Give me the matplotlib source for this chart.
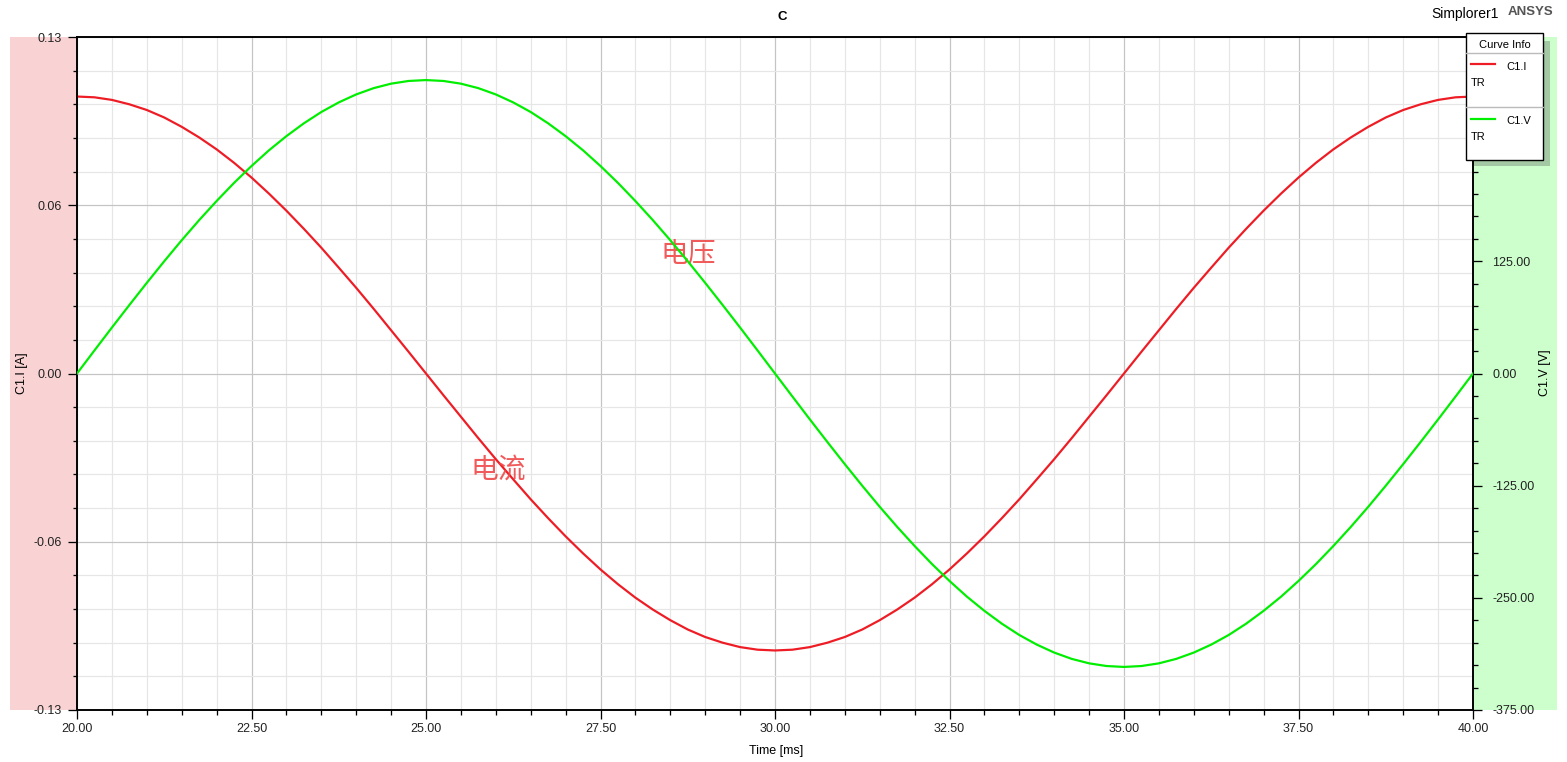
import matplotlib
matplotlib.use("Agg")
import matplotlib.pyplot as plt
from matplotlib.patches import Rectangle
from matplotlib.lines import Line2D
from matplotlib.ticker import MultipleLocator, FixedLocator, FixedFormatter

plt.rcParams['font.family'] = ['Liberation Sans', 'DejaVu Sans']

# datos (tiempo en ms, cada 0.25 ms)
tiempo = [20.0 + 0.25 * i for i in range(81)]
corriente = [0.1070, 0.1067, 0.1057, 0.1040, 0.1018, 0.0989, 0.0953, 0.0912, 0.0866, 0.0814,
             0.0757, 0.0695, 0.0629, 0.0559, 0.0486, 0.0409, 0.0331, 0.0250, 0.0167, 0.0084,
             0.0000, -0.0084, -0.0167, -0.0250, -0.0331, -0.0409, -0.0486, -0.0559, -0.0629, -0.0695,
             -0.0757, -0.0814, -0.0866, -0.0912, -0.0953, -0.0989, -0.1018, -0.1040, -0.1057, -0.1067,
             -0.1070, -0.1067, -0.1057, -0.1040, -0.1018, -0.0989, -0.0953, -0.0912, -0.0866, -0.0814,
             -0.0757, -0.0695, -0.0629, -0.0559, -0.0486, -0.0409, -0.0331, -0.0250, -0.0167, -0.0084,
             0.0000, 0.0084, 0.0167, 0.0250, 0.0331, 0.0409, 0.0486, 0.0559, 0.0629, 0.0695,
             0.0757, 0.0814, 0.0866, 0.0912, 0.0953, 0.0989, 0.1018, 0.1040, 0.1057, 0.1067,
             0.1070]
tension = [0.0, 25.7, 51.2, 76.3, 101.0, 125.1, 148.5, 170.9, 192.2, 212.4,
           231.2, 248.7, 264.5, 278.8, 291.4, 302.1, 311.0, 318.0, 323.0, 326.0,
           327.0, 326.0, 323.0, 318.0, 311.0, 302.1, 291.4, 278.8, 264.5, 248.7,
           231.2, 212.4, 192.2, 170.9, 148.5, 125.1, 101.0, 76.3, 51.2, 25.7,
           0.0, -25.7, -51.2, -76.3, -101.0, -125.1, -148.5, -170.9, -192.2, -212.4,
           -231.2, -248.7, -264.5, -278.8, -291.4, -302.1, -311.0, -318.0, -323.0, -326.0,
           -327.0, -326.0, -323.0, -318.0, -311.0, -302.1, -291.4, -278.8, -264.5, -248.7,
           -231.2, -212.4, -192.2, -170.9, -148.5, -125.1, -101.0, -76.3, -51.2, -25.7,
           0.0]

ticks_x = [20.0, 22.5, 25.0, 27.5, 30.0, 32.5, 35.0, 37.5, 40.0]
ticks_i = [-0.13, -0.065, 0.0, 0.065, 0.13]
etiquetas_i = ['-0.13', '-0.06', '0.00', '0.06', '0.13']
ticks_v = [-375, -250, -125, 0, 125, 250, 375]
# 250 y 375 quedan tapados por el cuadro de leyenda
etiquetas_v = ['-375.00', '-250.00', '-125.00', '0.00', '125.00', '', '']

W, H = 1567, 762
PT = 0.72  # puntos por pixel a 100 dpi
def fx(x):
    return x / W
def fy(y):
    return 1 - y / H

fig = plt.figure(figsize=(W / 100, H / 100), dpi=100)
ax = fig.add_axes([fx(77), fy(710), fx(1473) - fx(77), fy(37) - fy(710)])
ax2 = ax.twinx()

# bandas de color a los lados
fig.patches.append(Rectangle((fx(10), fy(710)), fx(77) - fx(10), fy(37) - fy(710),
                             transform=fig.transFigure, facecolor='#f9d3d3', edgecolor='none', zorder=-1))
fig.patches.append(Rectangle((fx(1473), fy(710)), fx(1557) - fx(1473), fy(37) - fy(710),
                             transform=fig.transFigure, facecolor='#ccffcc', edgecolor='none', zorder=-1))

ax.plot(tiempo, corriente, color='#ee1c25', lw=2.2 * PT, zorder=3)
ax2.plot(tiempo, tension, color='#00ee00', lw=2.2 * PT, zorder=3)

ax.set_xlim(20, 40)
ax.set_ylim(-0.13, 0.13)
ax2.set_ylim(-375, 375)

ax.xaxis.set_major_locator(FixedLocator(ticks_x))
ax.xaxis.set_minor_locator(MultipleLocator(0.5))
ax.xaxis.set_major_formatter(plt.FormatStrFormatter('%.2f'))
ax.yaxis.set_major_locator(FixedLocator(ticks_i))
ax.yaxis.set_major_formatter(FixedFormatter(etiquetas_i))
ax.yaxis.set_minor_locator(MultipleLocator(0.013))
ax2.yaxis.set_major_locator(FixedLocator(ticks_v))
ax2.yaxis.set_minor_locator(MultipleLocator(25))
ax2.yaxis.set_major_formatter(FixedFormatter(etiquetas_v))

ax.grid(which='minor', color='#e6e6e6', lw=1.2 * PT)
ax.grid(which='major', color='#c4c4c4', lw=1.2 * PT)
ax.set_axisbelow(True)

for a in (ax, ax2):
    for s in a.spines.values():
        s.set_linewidth(1.6 * PT)
        s.set_color('black')
ax.tick_params(which='major', length=9 * PT, width=1.3 * PT, labelsize=9, labelcolor='#222222')
ax.tick_params(which='minor', length=4.5 * PT, width=1.3 * PT)
ax.tick_params(axis='y', which='major', pad=6 * PT)
ax.tick_params(axis='x', which='major', pad=4 * PT)
ax2.tick_params(which='major', length=9 * PT, width=1.3 * PT, labelsize=9, pad=10 * PT, labelcolor='#222222')
ax2.tick_params(which='minor', length=4.5 * PT, width=1.3 * PT)

fig.text(fx(22), fy(373), 'C1.I [A]', rotation=90, ha='center', va='center', fontsize=9)
fig.text(fx(1545), fy(373), 'C1.V [V]', rotation=90, ha='center', va='center', fontsize=9)
fig.text(fx(776), fy(751), 'Time [ms]', ha='center', va='center', fontsize=9)
fig.text(fx(782), fy(17), 'C', ha='center', va='center', fontsize=9.5, fontweight='bold')
fig.text(fx(1465), fy(14), 'Simplorer1', ha='center', va='center', fontsize=10)
fig.text(fx(1530), fy(12), 'ANSYS', ha='center', va='center', fontsize=9.5, fontweight='bold', color='#555555')

# anotaciones en chino
for texto, x, y in (('电压', 28.75, 0.0462), ('电流', 26.03, -0.0373)):
    ax.text(x, y, texto, fontsize=20, color='#f04848', ha='center', va='center',
            family=['Noto Sans CJK SC', 'DejaVu Sans'], fontweight='light', alpha=0.9)

# cuadro "Curve Info"
fig.patches.append(Rectangle((fx(1474), fy(166)), fx(1550) - fx(1474), fy(41) - fy(166),
                             transform=fig.transFigure, facecolor='#a4c8a4', edgecolor='none', zorder=5))
fig.patches.append(Rectangle((fx(1466), fy(160)), fx(1543) - fx(1466), fy(33) - fy(160),
                             transform=fig.transFigure, facecolor='white', edgecolor='black', lw=1, zorder=6))
for yy in (53, 107):
    fig.add_artist(Line2D([fx(1466), fx(1543)], [fy(yy), fy(yy)], color='#bbbbbb', lw=1, zorder=7))
fig.add_artist(Line2D([fx(1471), fx(1495)], [fy(64), fy(64)], color='#ee1c25', lw=2.2 * PT, zorder=7))
fig.add_artist(Line2D([fx(1471), fx(1495)], [fy(119), fy(119)], color='#00ee00', lw=2.2 * PT, zorder=7))
fig.text(fx(1505), fy(45), 'Curve Info', ha='center', va='center', fontsize=8, zorder=8)
fig.text(fx(1506), fy(67), 'C1.I', ha='left', va='center', fontsize=8, zorder=8)
fig.text(fx(1471), fy(83), 'TR', ha='left', va='center', fontsize=8, zorder=8)
fig.text(fx(1506), fy(121), 'C1.V', ha='left', va='center', fontsize=8, zorder=8)
fig.text(fx(1471), fy(137), 'TR', ha='left', va='center', fontsize=8, zorder=8)

fig.savefig('out.png', dpi=100)
